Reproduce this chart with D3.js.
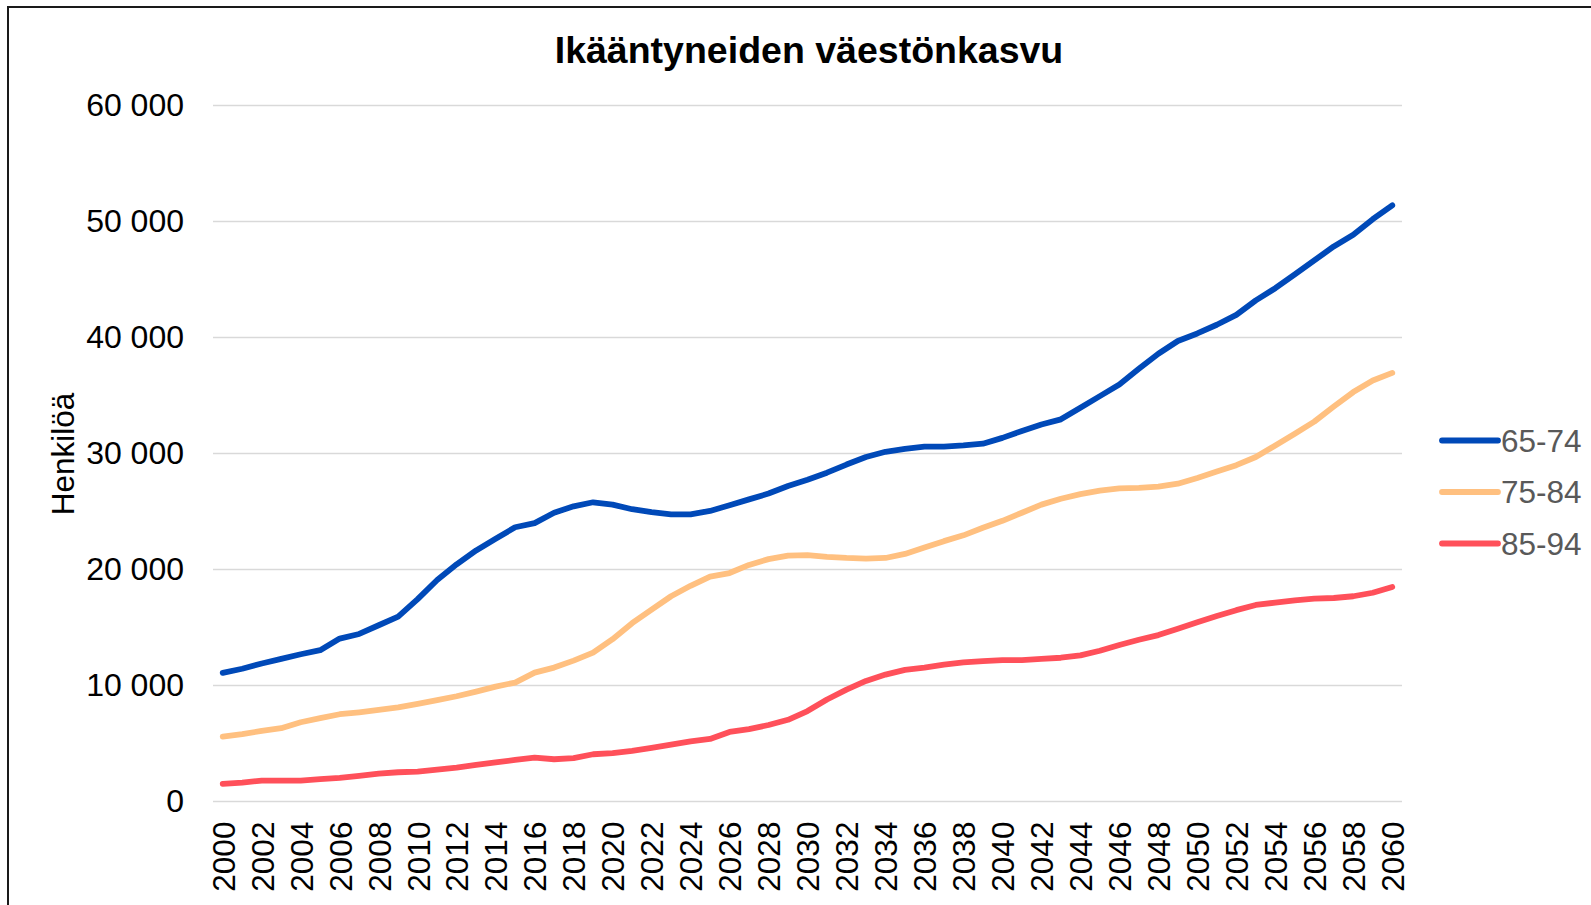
<!DOCTYPE html>
<html>
<head>
<meta charset="utf-8">
<script src="https://cdn.jsdelivr.net/npm/d3@7"></script>
<style>
  body{margin:0;background:#fff;}
  text{font-family:"Liberation Sans",Arial,sans-serif;}
</style>
</head>
<body>
<div id="chart"></div>
<script>
// data
var years=d3.range(2000,2061);
var seriesNames=["65-74","75-84","85-94"];
var seriesColors=["#0049b8","#ffc080","#ff505a"];
var yTicks=[0,10000,20000,30000,40000,50000,60000];

var age65=[11100,11450,11900,12300,12700,13050,14050,14450,15200,15950,
  17450,19100,20450,21650,22650,23650,24000,24900,25450,25800,
  25600,25200,24950,24750,24750,25050,25550,26050,26550,27200,
  27750,28350,29050,29700,30150,30400,30600,30600,30700,30850,
  31350,31950,32500,32950,33950,34950,35950,37300,38600,39700,
  40350,41100,41950,43200,44250,45450,46650,47850,48850,50200,51400];

var age75=[5600,5810,6100,6330,6840,7190,7530,7700,7900,8130,
  8420,8740,9080,9480,9910,10260,11120,11550,12150,12840,
  14000,15380,16550,17700,18600,19400,19700,20400,20900,21200,
  21250,21100,21000,20950,21000,21350,21900,22450,22950,23600,
  24200,24900,25600,26100,26500,26800,27000,27050,27150,27400,
  27900,28450,29000,29700,30700,31700,32750,34050,35300,36300,36950];

var age85=[1530,1640,1810,1810,1810,1930,2040,2210,2410,2530,
  2590,2760,2930,3160,3390,3590,3790,3650,3750,4080,
  4170,4370,4630,4910,5200,5400,6000,6250,6600,7050,
  7800,8800,9650,10400,10950,11350,11550,11800,12000,12100,
  12200,12200,12300,12400,12600,13000,13500,13950,14350,14900,
  15450,16000,16500,16950,17150,17350,17500,17550,17700,18000,18500];

var allSeries=[age65,age75,age85];

var W=1591,H=905;
var svg=d3.select("#chart").append("svg")
    .attr("width",W).attr("height",H);

svg.append("rect").attr("width",W).attr("height",H).attr("fill","#fff");
// chart frame
svg.append("rect")
    .attr("x",8).attr("y",7)
    .attr("width",W+20).attr("height",H+20)
    .attr("fill","none").attr("stroke","#1a1a1a").attr("stroke-width",2);

var x=d3.scalePoint().domain(years).range([213,1402]).padding(0.5);
var y=d3.scaleLinear().domain([0,60000]).range([801.6,105.5]);

var fiLocale=d3.formatLocale({decimal:",",thousands:" ",grouping:[3],currency:["","€"]});
var fmt=fiLocale.format(",");

// gridlines
svg.append("g").selectAll("line")
    .data(yTicks).enter().append("line")
    .attr("x1",213).attr("x2",1402)
    .attr("y1",function(d){return y(d);})
    .attr("y2",function(d){return y(d);})
    .attr("stroke","#d9d9d9").attr("stroke-width",1.5);

// y axis
var yAxis=d3.axisLeft(y).tickValues(yTicks).tickSize(0).tickPadding(29).tickFormat(fmt);
var gy=svg.append("g").attr("transform","translate(213,0)").call(yAxis);
gy.select(".domain").remove();
gy.selectAll("text").attr("font-size",32).attr("fill","#000")
    .attr("font-family","Liberation Sans, Arial, sans-serif");

// x axis
var xAxis=d3.axisBottom(x).tickValues(years.filter(function(d){return d%2===0;})).tickSize(0);
var gx=svg.append("g").attr("transform","translate(0,801.6)").call(xAxis);
gx.select(".domain").remove();
gx.selectAll("text")
    .attr("transform","rotate(-90)")
    .attr("x",-20).attr("y",0).attr("dy","0.36em")
    .style("text-anchor","end")
    .attr("font-size",31.5).attr("fill","#000")
    .attr("font-family","Liberation Sans, Arial, sans-serif");

// lines
var line=d3.line()
    .x(function(d,i){return x(years[i]);})
    .y(function(d){return y(d);});

svg.append("g").selectAll("path")
    .data(allSeries).enter().append("path")
    .attr("d",line)
    .attr("fill","none")
    .attr("stroke",function(d,i){return seriesColors[i];})
    .attr("stroke-width",5.8)
    .attr("stroke-linejoin","round")
    .attr("stroke-linecap","round");

// title
svg.append("text")
    .attr("x",809).attr("y",63)
    .attr("text-anchor","middle")
    .attr("font-size",37.5).attr("font-weight","bold")
    .attr("fill","#000")
    .text("Ikääntyneiden väestönkasvu");

// y axis title
svg.append("text")
    .attr("transform","translate(63,454) rotate(-90)")
    .attr("text-anchor","middle").attr("dy","0.35em")
    .attr("font-size",31.5).attr("fill","#000")
    .text("Henkilöä");

// legend
var legend=svg.append("g").selectAll("g")
    .data(seriesNames).enter().append("g")
    .attr("transform",function(d,i){return "translate(1442,"+(440.5+i*51.5)+")";});
legend.append("line")
    .attr("x1",0).attr("x2",56)
    .attr("stroke",function(d,i){return seriesColors[i];})
    .attr("stroke-width",5.8).attr("stroke-linecap","round");
legend.append("text")
    .attr("x",59).attr("dy","0.35em")
    .attr("font-size",31.5).attr("fill","#595959")
    .text(function(d){return d;});
</script>
</body>
</html>
